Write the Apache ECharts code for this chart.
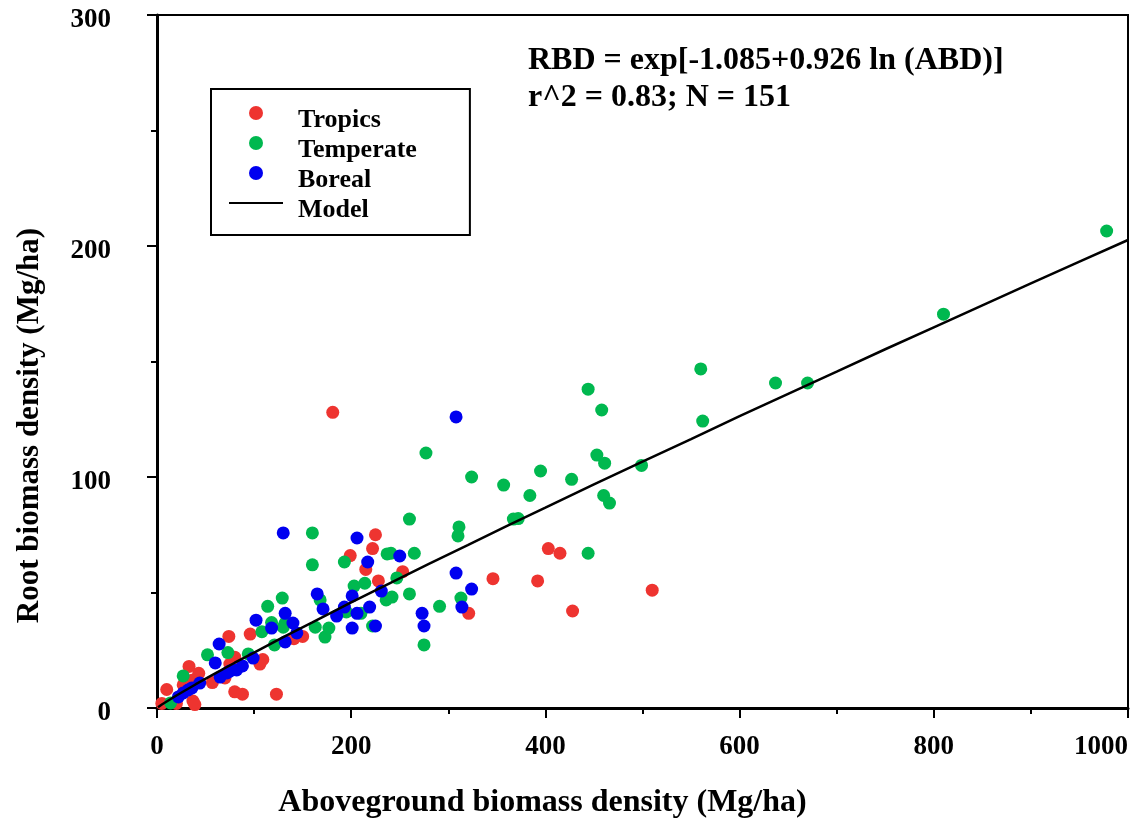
<!DOCTYPE html>
<html>
<head>
<meta charset="utf-8">
<script src="https://cdn.jsdelivr.net/npm/echarts@6/dist/echarts.min.js"></script>
<style>html,body{margin:0;padding:0;background:#fff}#c{width:1139px;height:819px}</style>
</head>
<body>
<div id="c"></div>
<script>
// Aboveground biomass density (x) vs root biomass density (y), Mg/ha
const tropics = [
  [181,128],[225,75],[222,69],[199,66],[215,60],[228,55],[253,59],[150,31],[346,56],[392,55],
  [403,69],[415,67],[428,42],[510,51],[321,41],[10,8],[5,2],[33,18],[43,15],[37,3],
  [74,31],[96,32],[80,7],[88,6],[123,6],[109,21],[106,19],[36,12],[27,10],[75,19],
  [57,11],[80,22],[20,2],[39,1.5],[141,30],[70,13]
];
const temperate = [
  [978,206.5],[810,170.5],[670,140.7],[637,140.7],[560,146.8],[562,124.2],[444,138],[458,129],[453,109.5],[461,106],
  [499,105],[460,92],[466,88.7],[427,99],[395,102.6],[384,92],[357,96.5],[324,100],[372,82],[367,81.8],
  [444,67],[311,78.4],[310,74.5],[277,110.4],[260,81.8],[265,67],[260,49.4],[291,44],[313,47.6],[275,27.3],
  [237,66.7],[241,67],[193,63.2],[203,52.8],[214,54],[247,56.3],[236,46.8],[242,48],[195,41.6],[210,41],
  [222,35.5],[160,75.8],[160,62],[168,46.8],[163,35],[173,30.7],[177,34.6],[114,44],[129,47.6],[118,37],
  [108,33],[121,27.3],[132,36.8],[52,23],[73,24],[94,23.4],[27,13.9],[14,2.2],[130,35]
];
const boreal = [
  [308,126],[130,75.8],[206,73.6],[217,63.2],[250,65.8],[273,41],[275,35.5],[231,50.6],[201,48.5],[219,43.7],
  [206,41],[193,43.7],[201,34.6],[225,35.5],[185,39.8],[165,49.4],[171,42.9],[140,36.8],[144,32.5],[308,58.4],
  [324,51.5],[314,43.7],[102,38],[118,34.6],[132,41],[132,28.6],[64,27.7],[60,19.5],[65,13.4],[75,16],
  [82,16.5],[88,18.2],[99,21.6],[44,10.8],[36,8.7],[27,6.5],[22,4.8],[72,15.2],[32,7.8]
];
const model = [
  [1,0.34],[5,1.5],[20,5.4],[40,10.3],[60,15.0],[80,19.6],[100,24.0],[130,30.7],[160,37.1],[200,45.7],
  [240,54.1],[280,62.4],[320,70.5],[360,78.7],[400,86.7],[450,96.8],[500,106.7],[550,116.4],[600,126.4],
  [650,136.0],[700,145.6],[750,155.3],[800,164.8],[850,174.3],[900,183.8],[950,193.2],[1000,202.6]
];
const xTicks = {min:0, max:1000, interval:200};
const yTicks = {min:0, max:300, interval:100};
const seriesNames = ['Tropics','Temperate','Boreal','Model'];
const eqLine1 = 'RBD = exp[-1.085+0.926 ln (ABD)]';
const eqLine2 = 'r^2 = 0.83; N = 151';

const FONT = '"Liberation Serif", "Times New Roman", serif';
const chart = echarts.init(document.getElementById('c'), null, {renderer:'canvas'});
const axisCommon = {
  axisLine:{show:true, onZero:false, lineStyle:{color:'#000', width:3}},
  axisTick:{show:true, inside:false, length:10, lineStyle:{color:'#000', width:2}},
  minorTick:{show:true, splitNumber:2, length:6, lineStyle:{color:'#000', width:2}},
  splitLine:{show:false},
  axisLabel:{color:'#000', fontFamily:FONT, fontWeight:'bold', fontSize:27, formatter:function(v){return String(v);}}
};
chart.setOption({
  animation:false,
  backgroundColor:'#fff',
  grid:{left:157, right:11, top:15, bottom:111, show:true, borderColor:'#000', borderWidth:2,
        containLabel:false, outerBoundsMode:'none'},
  xAxis:Object.assign({}, axisCommon, {
    type:'value', min:xTicks.min, max:xTicks.max, interval:xTicks.interval,
    axisLabel:Object.assign({}, axisCommon.axisLabel, {margin:26, alignMaxLabel:'right'}),
    name:'Aboveground biomass density (Mg/ha)', nameLocation:'middle', nameGap:79,
    nameTextStyle:{color:'#000', fontFamily:FONT, fontWeight:'bold', fontSize:32, padding:[0,200,0,0]}
  }),
  yAxis:Object.assign({}, axisCommon, {
    type:'value', min:yTicks.min, max:yTicks.max, interval:yTicks.interval,
    axisLabel:Object.assign({}, axisCommon.axisLabel, {
      margin:46,
      formatter:function(v){return '{v|' + v + '}';},
      rich:{v:{color:'#000', fontFamily:FONT, fontWeight:'bold', fontSize:27, padding:[10,0,0,0]}}
    }),
    name:'Root biomass density (Mg/ha)', nameLocation:'middle', nameGap:112, nameRotate:90,
    nameTextStyle:{color:'#000', fontFamily:FONT, fontWeight:'bold', fontSize:31, padding:[0,128,0,0]}
  }),
  legend:{
    data:[seriesNames[0], seriesNames[1], seriesNames[2], {name:seriesNames[3], itemStyle:{opacity:0}}],
    orient:'vertical', left:211, top:89,
    padding:[4,53,12,17], itemGap:-10, itemWidth:54, itemHeight:14,
    borderColor:'#000', borderWidth:2, backgroundColor:'#fff',
    formatter:function(name){return '{t|' + name + '}';},
    textStyle:{color:'#000', fontFamily:FONT, fontWeight:'bold', fontSize:26,
      rich:{t:{color:'#000', fontFamily:FONT, fontWeight:'bold', fontSize:26, lineHeight:22, padding:[14,0,0,10]}}}
  },
  graphic:[
    {type:'text', left:528, top:45, style:{text:eqLine1, fill:'#000', font:'bold 32px '+FONT}},
    {type:'text', left:528, top:82, style:{text:eqLine2, fill:'#000', font:'bold 32px '+FONT}}
  ],
  series:[
    {name:seriesNames[0], type:'scatter', data:tropics, symbol:'circle', symbolSize:13, itemStyle:{color:'#EE3430', opacity:1}},
    {name:seriesNames[1], type:'scatter', data:temperate, symbol:'circle', symbolSize:13, itemStyle:{color:'#00B84F', opacity:1}},
    {name:seriesNames[2], type:'scatter', data:boreal, symbol:'circle', symbolSize:13, itemStyle:{color:'#0000F0', opacity:1}},
    {name:seriesNames[3], type:'line', data:model, symbol:'none', smooth:false, lineStyle:{color:'#000', width:2.5}, itemStyle:{color:'#000'}, z:5}
  ]
});
</script>
</body>
</html>
